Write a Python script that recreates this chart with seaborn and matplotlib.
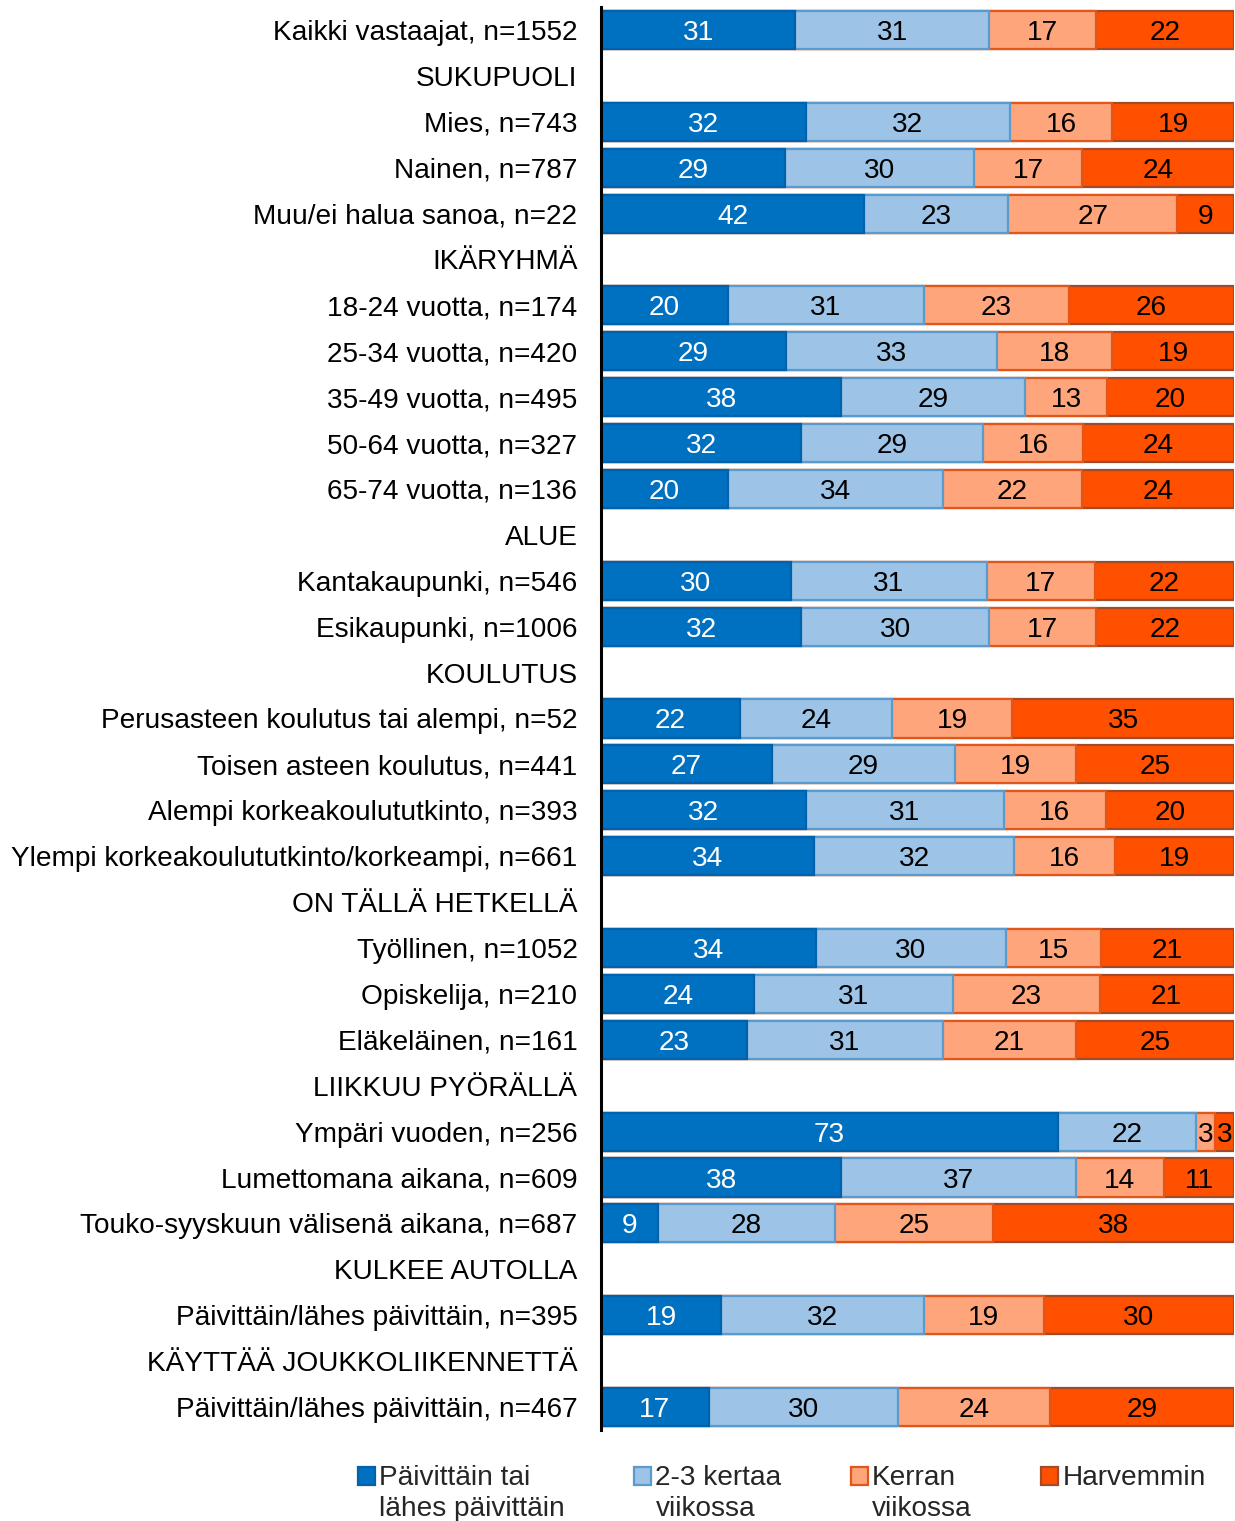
import matplotlib
matplotlib.use("Agg")
import matplotlib.pyplot as plt
import seaborn as sns
import pandas as pd
import numpy as np
from matplotlib.patches import Patch, Rectangle
from matplotlib.legend_handler import HandlerPatch

sns.set_theme(style="white")
plt.rcParams["font.family"] = ["Liberation Sans", "DejaVu Sans"]

# ── data ─────────────────────────────────────────────────────────────
ROWS = [
    "Kaikki vastaajat, n=1552",
    "SUKUPUOLI",
    "Mies, n=743",
    "Nainen, n=787",
    "Muu/ei halua sanoa, n=22",
    "IKÄRYHMÄ",
    "18-24 vuotta, n=174",
    "25-34 vuotta, n=420",
    "35-49 vuotta, n=495",
    "50-64 vuotta, n=327",
    "65-74 vuotta, n=136",
    "ALUE",
    "Kantakaupunki, n=546",
    "Esikaupunki, n=1006",
    "KOULUTUS",
    "Perusasteen koulutus tai alempi, n=52",
    "Toisen asteen koulutus, n=441",
    "Alempi korkeakoulututkinto, n=393",
    "Ylempi korkeakoulututkinto/korkeampi, n=661",
    "ON TÄLLÄ HETKELLÄ",
    "Työllinen, n=1052",
    "Opiskelija, n=210",
    "Eläkeläinen, n=161",
    "LIIKKUU PYÖRÄLLÄ",
    "Ympäri vuoden, n=256",
    "Lumettomana aikana, n=609",
    "Touko-syyskuun välisenä aikana, n=687",
    "KULKEE AUTOLLA",
    "Päivittäin/lähes päivittäin, n=395",
    "KÄYTTÄÄ JOUKKOLIIKENNETTÄ",
    "Päivittäin/lähes päivittäin, n=467",
]
HEADERS = {"SUKUPUOLI", "IKÄRYHMÄ", "ALUE", "KOULUTUS", "ON TÄLLÄ HETKELLÄ",
           "LIIKKUU PYÖRÄLLÄ", "KULKEE AUTOLLA", "KÄYTTÄÄ JOUKKOLIIKENNETTÄ"}
DATA_ROWS = [r for r in ROWS if r not in HEADERS]

daily   = [31, 32, 29, 42, 20, 29, 38, 32, 20, 30, 32, 22, 27, 32, 34, 34, 24, 23, 73, 38, 9, 19, 17]
weekly23 = [31, 32, 30, 23, 31, 33, 29, 29, 34, 31, 30, 24, 29, 31, 32, 30, 31, 31, 22, 37, 28, 32, 30]
weekly1 = [17, 16, 17, 27, 23, 18, 13, 16, 22, 17, 17, 19, 19, 16, 16, 15, 23, 21, 3, 14, 25, 19, 24]
rarer   = [22, 19, 24, 9, 26, 19, 20, 24, 24, 22, 22, 35, 25, 20, 19, 21, 21, 25, 3, 11, 38, 30, 29]

SERIES = ["Päivittäin tai\nlähes päivittäin", "2-3 kertaa\nviikossa", "Kerran\nviikossa", "Harvemmin\n "]
FILLS = ["#0070C0", "#9DC3E6", "#FFA57B", "#FF5000"]
EDGES = ["#0062AC", "#5A9BCF", "#E2561A", "#A24A2C"]
TEXT_COLORS = ["white", "black", "black", "black"]

vals = np.array([daily, weekly23, weekly1, rarer], dtype=float)
widths = vals / vals.sum(axis=0) * 100
cum = np.cumsum(widths, axis=0)

df = pd.DataFrame({"label": DATA_ROWS})
for i in range(4):
    df[f"c{i}"] = cum[i]


class HandlerFirstLine(HandlerPatch):
    # put the square next to the first line of a two-line label
    def create_artists(self, legend, orig_handle, xdescent, ydescent, width, height,
                       fontsize, trans):
        shift = 0.62 * fontsize
        p = Rectangle((-xdescent, -ydescent + shift), width, height,
                      facecolor=orig_handle.get_facecolor(),
                      edgecolor=orig_handle.get_edgecolor(),
                      linewidth=orig_handle.get_linewidth())
        p.set_transform(trans)
        return [p]


# ── plot ─────────────────────────────────────────────────────────────
fig = plt.figure(figsize=(12.35, 15.21), dpi=100)
ax = fig.add_axes([601 / 1235, 1 - 1430 / 1521, 1 - 601 / 1235 - 0.001, (1430 - 7) / 1521])

for i in reversed(range(4)):
    sns.barplot(data=df, x=f"c{i}", y="label", order=ROWS, color=FILLS[i],
                edgecolor=EDGES[i], linewidth=1.6, width=0.83, errorbar=None,
                saturation=1, orient="h", ax=ax)

ypos = {r: k for k, r in enumerate(ROWS)}
for j, r in enumerate(DATA_ROWS):
    left = 0
    for i in range(4):
        ax.text(left + widths[i, j] / 2, ypos[r], f"{int(vals[i, j])}", ha="center",
                va="center_baseline", fontsize=20.2, color=TEXT_COLORS[i])
        left += widths[i, j]

ax.set_xlim(0, 100)
ax.set_ylim(len(ROWS) - 0.5, -0.5)
ax.set_xlabel("")
ax.set_ylabel("")
ax.set_xticks([])
ax.tick_params(axis="y", length=0, pad=17, labelsize=20.2, labelcolor="black")
for s in ["top", "right", "bottom"]:
    ax.spines[s].set_visible(False)
ax.spines["left"].set_color("black")
ax.spines["left"].set_linewidth(2.2)

handles = [Patch(facecolor=FILLS[i], edgecolor=EDGES[i], linewidth=1.6) for i in range(4)]
leg = fig.legend(handles, SERIES, loc="upper left", bbox_to_anchor=(358 / 1235, 1 - 1465 / 1521),
                 ncol=4, frameon=False, fontsize=20.2, handlelength=0.6, handleheight=0.6,
                 handletextpad=0.15, columnspacing=2.48, borderpad=0, borderaxespad=0,
                 handler_map={Patch: HandlerFirstLine()})
for t in leg.get_texts():
    t.set_linespacing(1.25)

fig.savefig("out.png", dpi=100)
